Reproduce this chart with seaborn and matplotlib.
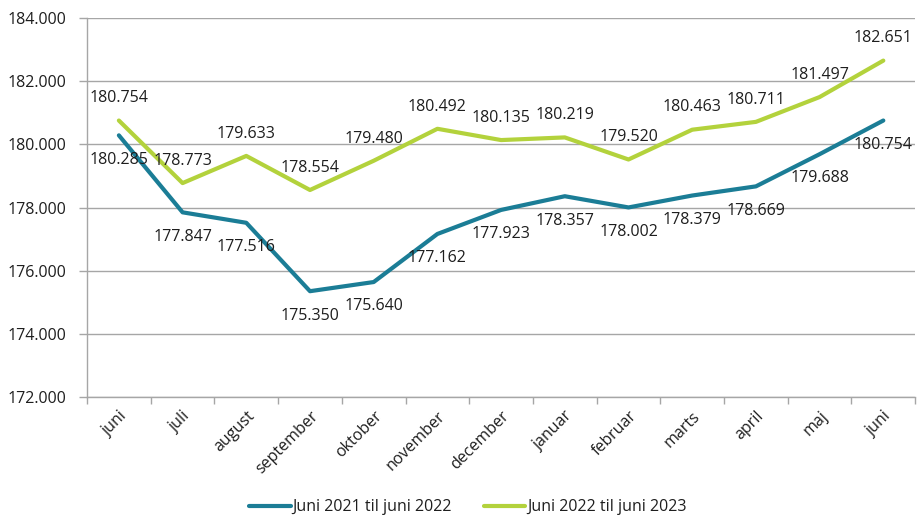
import matplotlib
matplotlib.use("Agg")
import matplotlib.pyplot as plt
import seaborn as sns
import pandas as pd
import numpy as np
from matplotlib.lines import Line2D

months = ["juni", "juli", "august", "september", "oktober", "november", "december",
          "januar", "februar", "marts", "april", "maj", "juni"]
series_names = ["Juni 2021 til juni 2022", "Juni 2022 til juni 2023"]
values_2122 = [180285, 177847, 177516, 175350, 175640, 177162, 177923,
               178357, 178002, 178379, 178669, 179688, 180754]
values_2223 = [180754, 178773, 179633, 178554, 179480, 180492, 180135,
               180219, 179520, 180463, 180711, 181497, 182651]
y_ticks = [172000, 174000, 176000, 178000, 180000, 182000, 184000]

colors = ["#1b7d96", "#b3d23c"]

sns.set_theme(style="white")
plt.rcParams["font.family"] = ["Open Sans", "DejaVu Sans"]

FS = 11.5
TXT = "#1e1e1e"

pos = list(range(len(months)))
df = pd.DataFrame({
    "pos": pos * 2,
    "value": values_2122 + values_2223,
    "series": [series_names[0]] * len(pos) + [series_names[1]] * len(pos),
})

fig = plt.figure(figsize=(9.17, 5.23), dpi=100)
ax = fig.add_axes([0.0949, 0.2409, 0.9031, 0.7247])

sns.lineplot(data=df, x="pos", y="value", hue="series", palette=colors,
             linewidth=3, ax=ax, legend=False, sort=False)

def fmt(v):
    return f"{v:,}".replace(",", ".")

# data labels
for i, v in enumerate(values_2122):
    ax.annotate(fmt(v), (i, v), xytext=(0, -17.5), textcoords="offset points",
                ha="center", va="center", fontsize=FS, color=TXT)
for i, v in enumerate(values_2223):
    ax.annotate(fmt(v), (i, v), xytext=(0, 16), textcoords="offset points",
                ha="center", va="center", fontsize=FS, color=TXT)

ax.set_xlim(-0.5, len(months) - 0.5)
ax.set_ylim(y_ticks[0], y_ticks[-1])
ax.set_yticks(y_ticks)
ax.set_yticklabels([fmt(t) for t in y_ticks], fontsize=FS, color=TXT)
ax.yaxis.grid(True, color="#a6a6a6", linewidth=1)
ax.set_axisbelow(True)

ax.set_xticks(pos)
ax.set_xticklabels(months, rotation=45, ha="right", va="top",
                   rotation_mode="anchor", fontsize=FS, color=TXT)
ax.set_xticks(np.arange(-0.5, len(months) + 0.5, 1), minor=True)
ax.tick_params(axis="x", which="major", length=0, pad=8)
ax.tick_params(axis="x", which="minor", length=5, color="#a6a6a6", width=1, direction="out", bottom=True)
ax.tick_params(axis="y", which="major", length=6, color="#a6a6a6", width=1, direction="out", left=True, pad=9)

ax.set_xlabel("")
ax.set_ylabel("")
for s in ["top", "right"]:
    ax.spines[s].set_visible(False)
for s in ["left", "bottom"]:
    ax.spines[s].set_color("#a6a6a6")
    ax.spines[s].set_linewidth(1)

handles = [Line2D([0], [0], color=c, lw=3) for c in colors]
fig.legend(handles, series_names, loc="center", bbox_to_anchor=(0.51, 0.03), ncol=2,
           frameon=False, fontsize=FS, handlelength=2.6, handletextpad=0.1,
           columnspacing=2.0, labelcolor=TXT)

fig.savefig("out.png", dpi=100)
